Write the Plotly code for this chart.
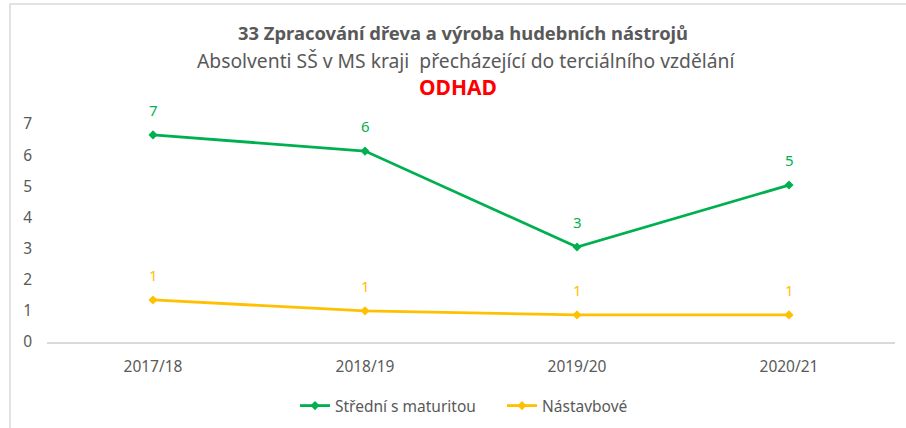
import plotly.graph_objects as go

years = ["2017/18", "2018/19", "2019/20", "2020/21"]
stredni = [6.65, 6.13, 3.05, 5.04]
nastavbove = [1.35, 1.0, 0.87, 0.87]
series_names = ["Střední s maturitou", "Nástavbové"]
y_ticks = [0, 1, 2, 3, 4, 5, 6, 7]

title1 = "33 Zpracování dřeva a výroba hudebních nástrojů"
title2 = "Absolventi SŠ v MS kraji  přecházející do terciálního vzdělání"
title3 = "ODHAD"

GREEN = "#00b050"
YELLOW = "#ffc000"
GRAY = "#595959"
FONT = "Noto Sans"

W, H = 906, 428
ML, MR, MT, MB = 47, 11, 124, 86
PW = W - ML - MR
PH = H - MT - MB

def px_x(px):
    return (px - ML) / PW

def px_y(py):
    return (H - MB - py) / PH

fig = go.Figure()
for name, vals, col in [(series_names[0], stredni, GREEN), (series_names[1], nastavbove, YELLOW)]:
    fig.add_trace(go.Scatter(
        x=years, y=vals, name=name, mode="lines+markers",
        line=dict(color=col, width=2.8),
        marker=dict(symbol="diamond", size=7, color=col),
        cliponaxis=False,
    ))
    for xv, yv in zip(years, vals):
        fig.add_annotation(x=xv, y=yv, text=f"{round(yv):d}", showarrow=False,
                           yshift=25, font=dict(family=FONT, size=15, color=col))

# titles
fig.add_annotation(xref="paper", yref="paper", x=px_x(463), y=px_y(33), text=f"<b>{title1}</b>",
                   showarrow=False, font=dict(family=FONT, size=18.4, color=GRAY), yanchor="middle")
fig.add_annotation(xref="paper", yref="paper", x=px_x(466), y=px_y(60), text=title2,
                   showarrow=False, font=dict(family=FONT, size=19.3, color=GRAY), yanchor="middle")
fig.add_annotation(xref="paper", yref="paper", x=px_x(458), y=px_y(87), text=f"<b>{title3}</b>",
                   showarrow=False, font=dict(family=FONT, size=21, color="#ff0000"), yanchor="middle")

# chart frame
fig.add_shape(type="rect", xref="paper", yref="paper",
              x0=px_x(10), x1=px_x(915), y0=px_y(440), y1=px_y(4),
              line=dict(color="#d9d9d9", width=1.5), layer="below")

fig.update_layout(
    width=W, height=H,
    margin=dict(l=ML, r=MR, t=MT, b=MB, autoexpand=False),
    paper_bgcolor="white", plot_bgcolor="white",
    font=dict(family=FONT, size=15, color=GRAY),
    showlegend=True,
    legend=dict(orientation="h", x=px_x(295), xanchor="left", y=px_y(406), yanchor="middle",
                font=dict(family=FONT, size=15.5, color=GRAY), itemwidth=30,
                entrywidth=162, entrywidthmode="pixels"),
)
fig.update_xaxes(range=[-0.5, 3.5], showgrid=False, showline=True, linecolor="#d9d9d9", linewidth=1.5,
                 ticks="", tickfont=dict(family=FONT, size=15.5, color=GRAY),
                 ticklabelstandoff=10, zeroline=False)
fig.update_yaxes(range=[0, 7], tickvals=y_ticks, showgrid=False, showline=False, zeroline=False,
                 ticks="", tickfont=dict(family=FONT, size=15.5, color=GRAY),
                 ticklabelstandoff=14)

fig.write_html("out.html", config={"displayModeBar": False},
               post_script="document.body.style.margin='0';document.body.style.overflow='hidden';")
